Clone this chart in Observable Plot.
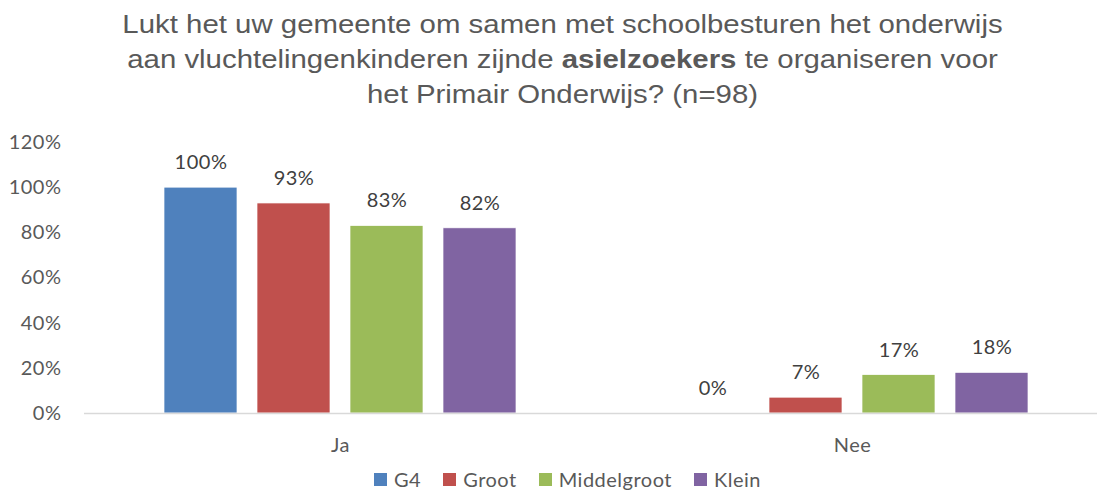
<!DOCTYPE html>
<html>
<head>
<meta charset="utf-8">
<script src="https://cdn.jsdelivr.net/npm/d3@7"></script>
<script src="https://cdn.jsdelivr.net/npm/@observablehq/plot@0.6"></script>
<style>
  html, body { margin: 0; padding: 0; background: #fff; overflow: hidden; }
  #wrap { width: 1097px; height: 491px; position: relative; }
  #title { font-family: "Liberation Sans", Arial, sans-serif; font-size: 26px; line-height: 35px; color: #595959;
           text-align: center; padding-top: 7px; height: 106px; box-sizing: content-box; width: 1097px; }
  #title .inner { display: inline-block; transform: scaleX(1.13); transform-origin: center; margin-left: 28px; }
  #legend { font-family: Lato, sans-serif; font-size: 20px; letter-spacing: 0.5px; color: #595959; display: flex; justify-content: center;
            padding-left: 38px; margin-top: 9px; }
  #legend .item { display: flex; align-items: center; margin: 0 11px; }
  #legend .sw { width: 13px; height: 13px; margin-right: 7px; display: inline-block; }
  svg { display: block; }
  svg text { letter-spacing: 0.5px; }
</style>
</head>
<body>
<div id="wrap">
  <div id="title"><div class="inner">Lukt het uw gemeente om samen met schoolbesturen het onderwijs<br>aan vluchtelingenkinderen zijnde <b>asielzoekers</b> te organiseren voor<br>het Primair Onderwijs? (n=98)</div></div>
  <div id="chart"></div>
  <div id="legend"></div>
</div>
<script>
const categories = ["Ja", "Nee"];
const series = ["G4", "Groot", "Middelgroot", "Klein"];
const colors = ["#4f81bd", "#c0504d", "#9bbb59", "#8064a2"];
const valuesJa = [1.00, 0.93, 0.83, 0.82];
const valuesNee = [0.00, 0.07, 0.17, 0.18];
const yTicks = [0, 0.2, 0.4, 0.6, 0.8, 1.0, 1.2];

const data = [];
series.forEach((s, i) => {
  data.push({cat: "Ja", series: s, value: valuesJa[i]});
  data.push({cat: "Nee", series: s, value: valuesNee[i]});
});

const chart = Plot.plot({
  width: 1097,
  height: 345,
  marginTop: 29,
  marginBottom: 45,
  marginLeft: 84,
  marginRight: 0,
  style: {fontFamily: "Lato, sans-serif", color: "#595959", background: "white", overflow: "hidden"},
  fx: {domain: categories, range: [84, 1108], padding: 0, label: null},
  x: {domain: series, paddingInner: 0.215, paddingOuter: 0.86, axis: null},
  y: {domain: [0, 1.2], label: null},
  color: {domain: series, range: colors},
  marks: [
    Plot.axisY({ticks: yTicks, tickSize: 0, tickPadding: 23, tickFormat: d3.format(".0%"), fontSize: 20, fill: "#595959", label: null}),
    Plot.axisFx({anchor: "bottom", tickSize: 0, tickPadding: 24, fontSize: 20, fill: "#595959", label: null}),
    Plot.barY(data, {fx: "cat", x: "series", y: "value", fill: "series", stroke: "white", strokeWidth: 0.7}),
    Plot.ruleY([0], {stroke: "#d9d9d9", strokeWidth: 1.5}),
    Plot.text(data, {fx: "cat", x: "series", y: "value", text: d => Math.round(d.value * 100) + "%", dy: -25, fontSize: 20, fill: "#404040"})
  ]
});
document.getElementById("chart").appendChild(chart);

const legend = document.getElementById("legend");
series.forEach((s, i) => {
  const item = document.createElement("span");
  item.className = "item";
  const sw = document.createElement("span");
  sw.className = "sw";
  sw.style.background = colors[i];
  item.appendChild(sw);
  item.appendChild(document.createTextNode(s));
  legend.appendChild(item);
});
</script>
</body>
</html>
